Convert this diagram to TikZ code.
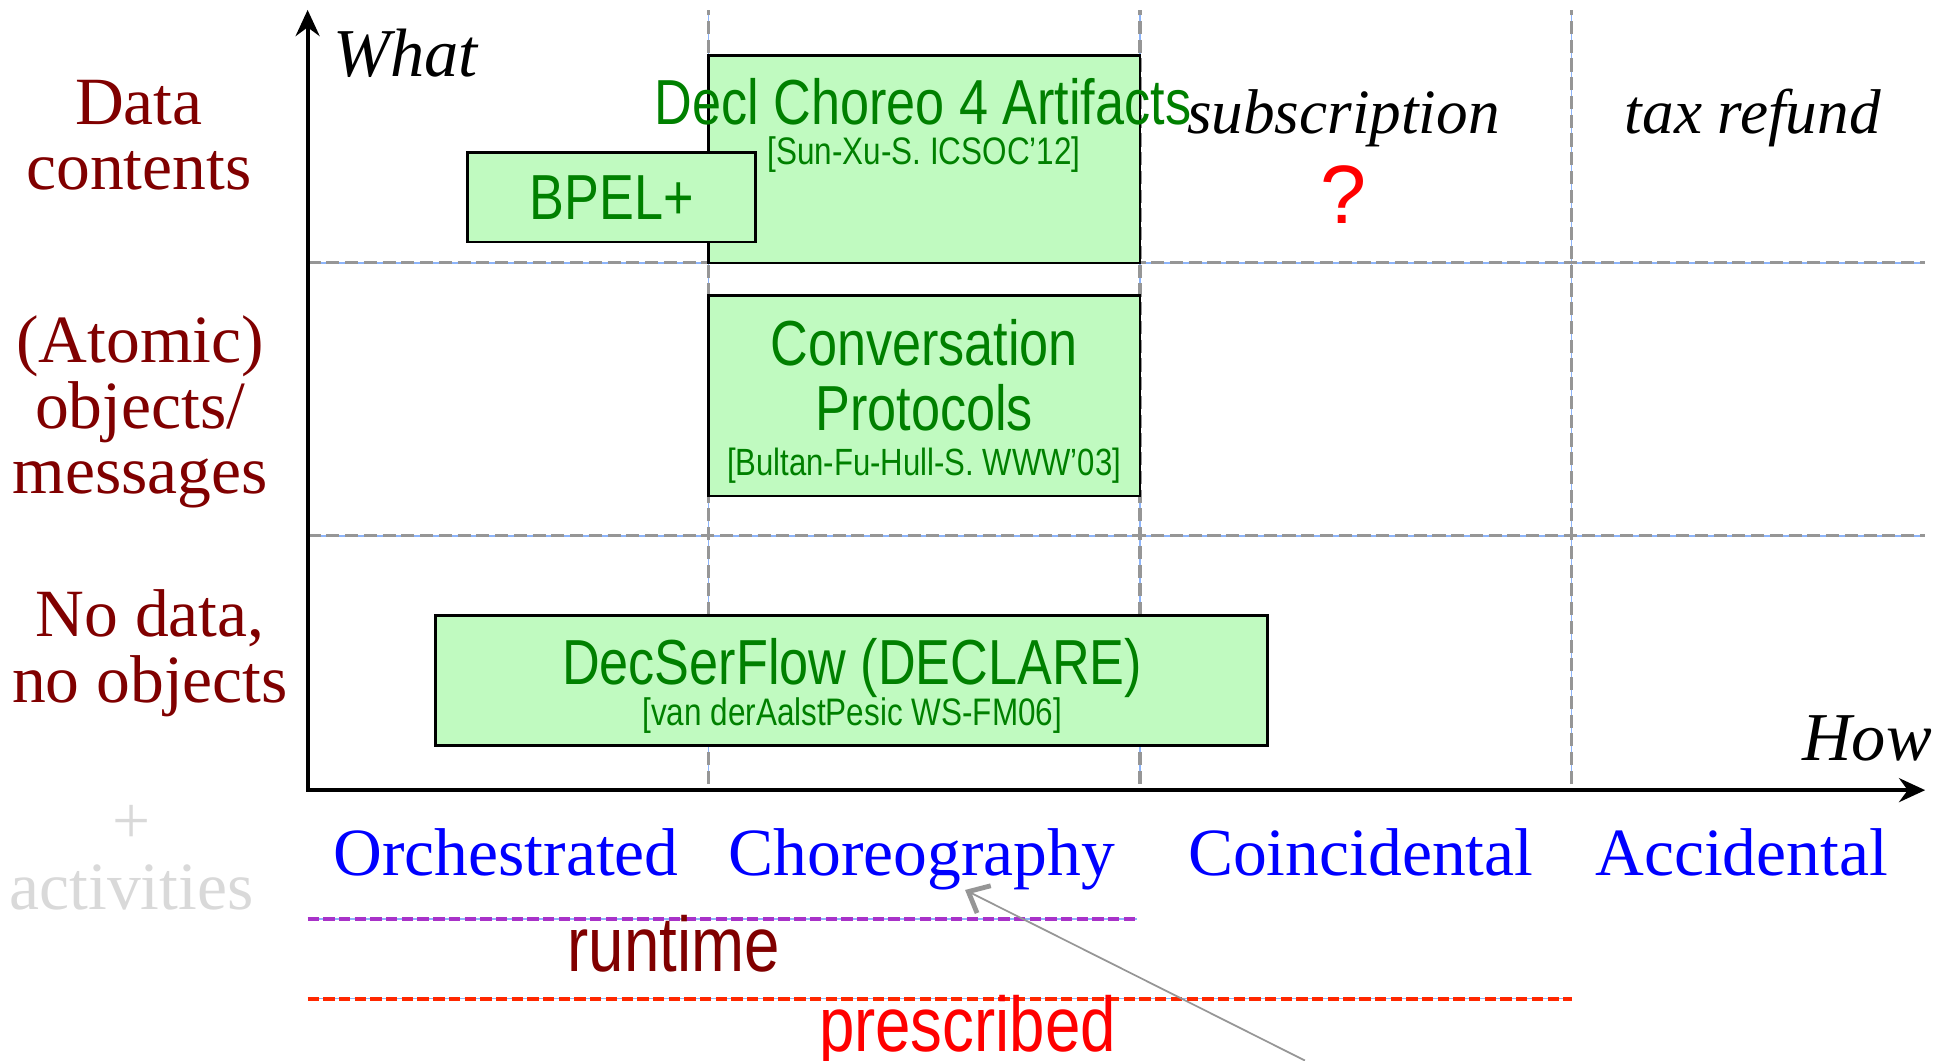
\documentclass[tikz,border=0pt]{standalone}
\usepackage{fontspec}
\setmainfont{Liberation Serif}
\newfontfamily\narrowsans[FakeStretch=0.82]{Liberation Sans}
\newfontfamily\plainsans{Liberation Sans}
\usetikzlibrary{arrows.meta}
\definecolor{rowred}{RGB}{128,0,0}
\definecolor{boxgreen}{RGB}{192,250,192}
\definecolor{textgreen}{RGB}{0,128,0}
\definecolor{runpurple}{RGB}{168,50,200}
\definecolor{presred}{RGB}{255,40,0}
\definecolor{gridgray}{RGB}{150,150,150}
\definecolor{gridblue}{RGB}{140,180,250}
\definecolor{fadegray}{RGB}{217,217,217}

\begin{document}
\begin{tikzpicture}[
    axes/.style={line width=0.9pt, {Stealth[length=6pt,width=5.5pt,inset=2pt]}-{Stealth[length=6pt,width=5.5pt,inset=2pt]}},
    gridline/.style={draw=gridgray, line width=0.7pt, dash pattern=on 3pt off 1.3pt, preaction={draw=gridblue, line width=0.35pt, solid}},
    spanline/.style={line width=0.9pt, dash pattern=on 2.6pt off 1pt, preaction={draw=gridblue, line width=0.35pt, solid}},
    approach/.style={rectangle, draw=black, line width=0.6pt, fill=boxgreen, inner sep=0pt},
    boxtitle/.style={font=\narrowsans\fontsize{14.6}{15}\selectfont, text=textgreen, inner sep=0pt, anchor=base, align=center},
    cite/.style={font=\narrowsans\fontsize{8.8}{10}\selectfont, text=textgreen, inner sep=0pt, anchor=base},
    whatlabel/.style={font=\fontsize{15.5}{15}\selectfont, text=rowred, align=center, inner sep=0pt, anchor=base},
    howlabel/.style={font=\fontsize{15.5}{15}\selectfont, text=blue, inner sep=0pt, anchor=base},
    scenario/.style={font=\itshape\fontsize{14.5}{15}\selectfont, inner sep=0pt, anchor=base},
    spanlabel/.style={font=\narrowsans\fontsize{17.8}{18}\selectfont, inner sep=0pt, anchor=base},
    hintarrow/.style={draw=gridgray, line width=0.4pt, -{Straight Barb[length=4pt,width=7pt,line width=1.1pt]}}
]
\useasboundingbox (0,0) rectangle (15.68,8.55);

% grid
\draw[gridline] (5.71,2.23) -- (5.71,8.47);
\draw[gridline] (9.19,2.23) -- (9.19,8.47);
\draw[gridline] (12.67,2.23) -- (12.67,8.47);
\draw[gridline] (2.48,6.43) -- (15.52,6.43);
\draw[gridline] (2.48,4.23) -- (15.52,4.23);

% axes
\coordinate (origin) at (2.48,2.18);
\coordinate (ytip) at (2.48,8.47);
\coordinate (xtip) at (15.52,2.18);
\draw[axes] (ytip) -- (origin) -- (xtip);
\node[font=\itshape\fontsize{15.7}{16}\selectfont, inner sep=0pt, anchor=base west] (what) at (2.68,7.93) {What};
\node[font=\itshape\fontsize{15.7}{16}\selectfont, inner sep=0pt, anchor=base east] (how) at (15.58,2.42) {How};

% approaches
\node[approach, minimum width=3.48cm, minimum height=1.67cm] (decl) at (7.45,7.265) {};
\node[approach, minimum width=2.32cm, minimum height=0.72cm] (bpel) at (4.93,6.96) {};
\node[approach, minimum width=3.48cm, minimum height=1.62cm] (conv) at (7.45,5.36) {};
\node[approach, minimum width=6.71cm, minimum height=1.05cm] (decser) at (6.865,3.065) {};

\node[boxtitle] (decltitle) at (7.44,7.55) {Decl Choreo 4 Artifacts};
\node[cite] (declcite) at (7.45,7.22) {[Sun-Xu-S. ICSOC’12]};
\node[boxtitle] (bpeltitle) at (4.93,6.78) {BPEL+};
\node[boxtitle] (convtitle) at (7.45,5.08) {Conversation\\Protocols};
\node[cite, font=\narrowsans\fontsize{8.7}{10}\selectfont] (convcite) at (7.45,4.72) {[Bultan-Fu-Hull-S. WWW’03]};
\node[boxtitle] (decsertitle) at (6.87,3.03) {DecSerFlow (DECLARE)};
\node[cite] (decsercite) at (6.87,2.70) {[van derAalstPesic WS-FM06]};

% scenarios
\node[scenario] (subscr) at (10.83,7.47) {subscription};
\node[font=\plainsans\fontsize{19}{20}\selectfont, text=red, inner sep=0pt, anchor=base] (open) at (10.83,6.75) {?};
\node[scenario] (tax) at (14.13,7.47) {tax refund};

% what
\node[whatlabel] (rowdata) at (1.12,7.02) {Data\\contents};
\node[whatlabel] (rowobj) at (1.13,4.57) {(Atomic)\\objects/\\messages};
\node[whatlabel] (rownone) at (1.21,2.89) {No data,\\no objects};
\node[whatlabel, text=fadegray] (rowact) at (1.06,1.22) {+\\activities};

% how
\node[howlabel] (orch) at (4.08,1.49) {Orchestrated};
\node[howlabel] (choreo) at (7.43,1.49) {Choreography};
\node[howlabel] (coinc) at (10.97,1.49) {Coincidental};
\node[howlabel] (accid) at (14.04,1.49) {Accidental};

% runtime / prescribed
\draw[spanline, draw=runpurple] (2.48,1.14) -- (9.17,1.14);
\node[spanlabel, text=rowred] (runtime) at (5.43,0.72) {runtime};
\draw[spanline, draw=presred] (2.48,0.50) -- (12.67,0.50);
\node[spanlabel, text=red] (prescribed) at (7.80,0.07) {prescribed};

\coordinate (hint) at (10.52,0);
\draw[hintarrow] (hint) -- ([xshift=3.5mm,yshift=0.1mm]choreo.south);

\end{tikzpicture}
\end{document}
